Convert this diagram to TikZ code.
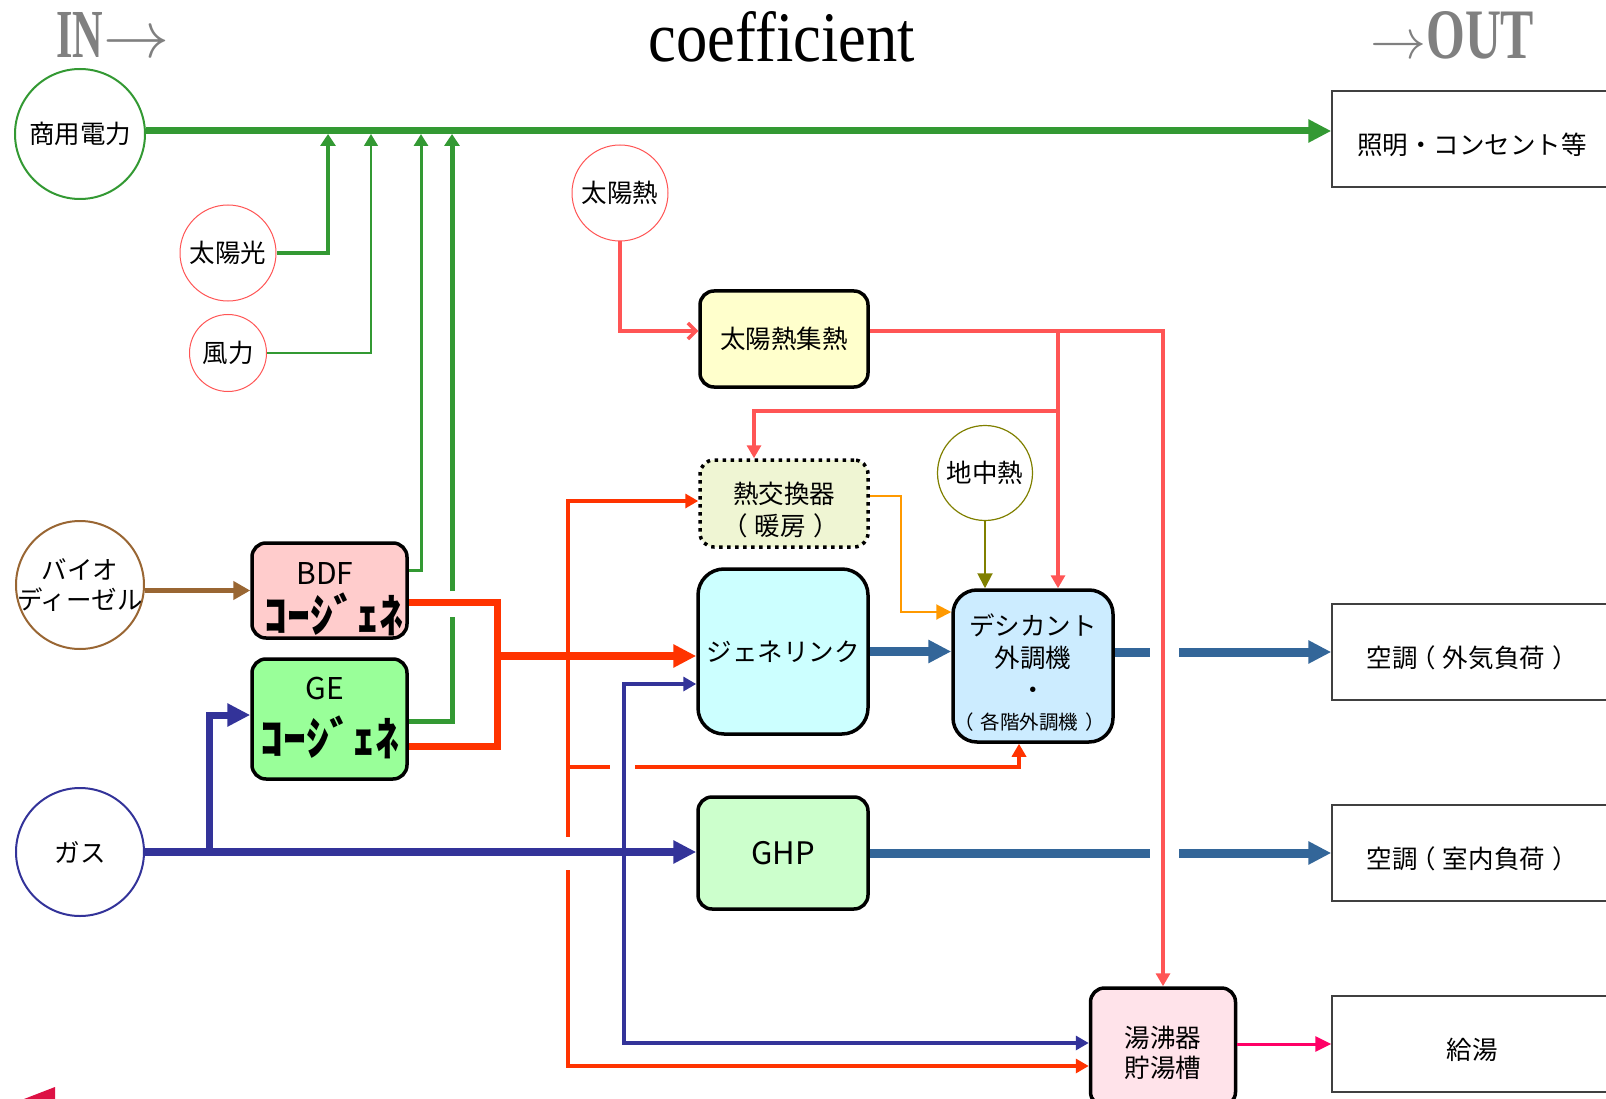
\documentclass[tikz,border=0pt]{standalone}
\usepackage{fontspec}
\usepackage{graphicx}
\usetikzlibrary{arrows.meta}

\setmainfont{Noto Sans CJK JP}
\newfontfamily\headfont{Liberation Serif}

\definecolor{elec}{HTML}{339933}
\definecolor{solar}{HTML}{FF5555}
\definecolor{exhaust}{HTML}{FF3300}
\definecolor{gasblue}{HTML}{333399}
\definecolor{coolblue}{HTML}{336699}
\definecolor{bdfbrown}{HTML}{996633}
\definecolor{geoolive}{HTML}{808000}
\definecolor{hxorange}{HTML}{FF9900}
\definecolor{hotpink}{HTML}{FF0066}
\definecolor{headgray}{HTML}{808080}
\definecolor{marker}{HTML}{DD1144}
\definecolor{bdfpink}{HTML}{FFCCCC}
\definecolor{gegreen}{HTML}{99FF99}
\definecolor{collyellow}{HTML}{FFFFCC}
\definecolor{hxfill}{HTML}{EFF5D3}
\definecolor{glcyan}{HTML}{CCFFFF}
\definecolor{dcblue}{HTML}{CCECFF}
\definecolor{ghpgreen}{HTML}{CCFFCC}
\definecolor{tankpink}{HTML}{FFE3EA}

\newcommand\cogenfont{\bfseries\fontsize{46}{46}\selectfont}
\newcommand\openp{\hspace{-7pt}（\hspace{7pt}}
\newcommand\closep{\hspace{7pt}）\hspace{-7pt}}

\begin{document}
\begin{tikzpicture}[x=1pt,y=-1pt,
  font=\fontsize{25.5}{32}\selectfont,
  srcnode/.style={circle,draw=#1,fill=white,inner sep=0pt,align=center},
  unitbox/.style={draw=black,line width=3.5pt,rounded corners=14pt,fill=#1,inner sep=0pt,align=center},
  demandbox/.style={draw=black!75,line width=1.5pt,minimum width=280pt,minimum height=96pt,
    inner sep=0pt,text height=31pt,text depth=0pt},
  bigtip/.style={-{Triangle[length=23pt,width=22pt]}},
  smalltip/.style={-{Triangle[length=13pt,width=14pt]}}]
  \useasboundingbox (0,0) rectangle (1606,1099);

  % headings
  \node[anchor=base west,inner sep=0pt,text=headgray,font=\headfont\bfseries] (inhead) at (56,58)
    {\resizebox{47pt}{45pt}{IN}\resizebox{66pt}{!}{$\rightarrow$}};
  \node[anchor=base,inner sep=0pt,font=\headfont] (title) at (782,62)
    {\resizebox{266pt}{50pt}{coefficient}};
  \node[anchor=base west,inner sep=0pt,text=headgray,font=\headfont\bfseries] (outhead) at (1370,59)
    {\resizebox{56pt}{!}{$\rightarrow$}\resizebox{108pt}{47pt}{OUT}};

  % energy sources
  \node[srcnode=elec,line width=2pt,minimum size=130pt] (grid) at (80,134) {商用電力};
  \node[srcnode=solar,line width=1pt,minimum size=96pt] (pv) at (228,253) {太陽光};
  \node[srcnode=solar,line width=1pt,minimum size=77pt] (wind) at (228,353) {風力};
  \node[srcnode=bdfbrown,line width=2pt,minimum size=128pt,inner sep=-16pt,
    font=\fontsize{25.5}{30}\selectfont] (bio) at (80,585) {バイオ\\ディーゼル};
  \node[srcnode=gasblue,line width=2pt,minimum size=128pt] (gas) at (80,852) {ガス};
  \node[srcnode=solar,line width=1pt,minimum size=96pt] (sunheat) at (620,193) {太陽熱};
  \node[srcnode=geoolive,line width=1.2pt,minimum size=95pt] (geo) at (985,473) {地中熱};

  % plant
  \node[unitbox=bdfpink,minimum width=155pt,minimum height=95pt] (bdf) at (329.5,590.5) {};
  \node[font=\fontsize{30}{30}\selectfont] (bdftype) at (325,574) {BDF};
  \node[font=\cogenfont] (bdfcg) at (333,614) {ｺｰｼﾞｪﾈ};
  \node[unitbox=gegreen,minimum width=155pt,minimum height=120pt] (ge) at (329.5,719) {};
  \node[font=\fontsize{30}{30}\selectfont] (getype) at (325,688) {GE};
  \node[font=\cogenfont] (gecg) at (329,737) {ｺｰｼﾞｪﾈ};
  \node[unitbox=collyellow,minimum width=168pt,minimum height=96pt] (coll) at (784,339) {太陽熱集熱};
  \node[unitbox=hxfill,dash pattern=on 3.5pt off 4.5pt,minimum width=168pt,minimum height=87pt]
    (hx) at (784,503.5) {};
  \node[align=center] (hxtext) at (784,510) {熱交換器\\\openp 暖房\closep};
  \node[unitbox=glcyan,rounded corners=26pt,minimum width=170pt,minimum height=165pt]
    (genelink) at (783,651.5) {ジェネリンク};
  \node[unitbox=dcblue,rounded corners=24pt,minimum width=160pt,minimum height=152pt]
    (desic) at (1033,666) {};
  \node[align=center] (desictext) at (1033,673)
    {デシカント\\外調機\\・\\[-2pt]{\fontsize{19.5}{22}\selectfont \openp 各階外調機\closep}};
  \node[unitbox=ghpgreen,minimum width=170pt,minimum height=112pt,font=\fontsize{31}{31}\selectfont]
    (ghp) at (783,853) {GHP};
  \node[unitbox=tankpink,minimum width=145pt,minimum height=118pt] (tank) at (1163,1047) {};
  \node[align=center,font=\fontsize{25.5}{30}\selectfont] (tanktext) at (1163,1053) {湯沸器\\貯湯槽};

  % demands
  \node[demandbox] (light) at (1472,139) {照明・コンセント等};
  \node[demandbox] (oa) at (1472,652) {空調\openp 外気負荷\closep};
  \node[demandbox] (ia) at (1472,853) {空調\openp 室内負荷\closep};
  \node[demandbox] (hw) at (1472,1044) {給湯};

  % electricity
  \coordinate (bus1) at (328,134);
  \coordinate (bus2) at (371,134);
  \coordinate (bus3) at (421,134);
  \coordinate (bus4) at (452,134);
  \coordinate (hopg1) at (452,617);
  \coordinate (hopg2) at (452,591);
  \draw[elec,line width=7pt,bigtip] ([yshift=3pt]grid.east) -- ([yshift=3pt]grid.east -| light.west);
  \draw[elec,line width=4pt,-{Triangle[length=12pt,width=15pt]}] (pv.east) -| (bus1);
  \draw[elec,line width=1.5pt,-{Triangle[length=12pt,width=14pt]}] (wind.east) -| (bus2);
  \draw[elec,line width=3pt,-{Triangle[length=12pt,width=14pt]}] ([yshift=20pt]bdf.east) -| (bus3);
  \draw[elec,line width=5pt] ([yshift=-2pt]ge.east) -| (hopg1);
  \draw[elec,line width=5pt,-{Triangle[length=12pt,width=15pt]}] (hopg2) -- (bus4);

  % exhaust heat
  \coordinate (exh) at (497,656);
  \coordinate (exh2) at (568,656);
  \coordinate (hopr1) at (610,767);
  \coordinate (hopr2) at (635,767);
  \coordinate (hopr3) at (568,837);
  \coordinate (hopr4) at (568,870);
  \draw[exhaust,line width=7pt] ([yshift=-11.5pt]bdf.east) -| (exh) |- ([yshift=-27pt]ge.east);
  \draw[exhaust,line width=8pt,bigtip] (exh) -- (exh -| genelink.west);
  \draw[exhaust,line width=4.5pt,smalltip] (exh2) |- ([yshift=2.5pt]hx.west);
  \draw[exhaust,line width=4.5pt] (exh2) |- (hopr1);
  \draw[exhaust,line width=4.5pt,smalltip] (hopr2) -| ([xshift=-14pt]desic.south);
  \draw[exhaust,line width=4.5pt] (exh2) -- (hopr3);
  \draw[exhaust,line width=4.5pt,smalltip] (hopr4) |- ([yshift=-19pt]tank.west);

  % gas
  \coordinate (gas1) at (209,852);
  \coordinate (gas2) at (624,852);
  \draw[gasblue,line width=8pt,bigtip] (gas.east) -- (gas.east -| ghp.west);
  \draw[gasblue,line width=7pt,bigtip] (gas1) |- ([yshift=4pt]ge.west);
  \draw[gasblue,line width=4pt,smalltip] (gas2) |- ([yshift=-32.5pt]genelink.west);
  \draw[gasblue,line width=4pt,smalltip] (gas2) |- ([yshift=4pt]tank.west);

  % cooling / heating output
  \coordinate (hopc1) at (1150,652);
  \coordinate (hopc2) at (1179,652);
  \coordinate (hopc3) at (1150,853);
  \coordinate (hopc4) at (1179,853);
  \draw[coolblue,line width=9pt,bigtip] (genelink.east) -- (genelink.east -| desic.west);
  \draw[coolblue,line width=9pt] (desic.east |- oa.west) -- (hopc1);
  \draw[coolblue,line width=9pt,bigtip] (hopc2) -- (oa.west);
  \draw[coolblue,line width=9pt] (ghp.east) -- (hopc3);
  \draw[coolblue,line width=9pt,bigtip] (hopc4) -- (ia.west);

  % solar heat
  \coordinate (sol1) at (1058,331);
  \coordinate (sol2) at (1058,411);
  \draw[solar,line width=3.5pt,-{Straight Barb[length=8pt,width=16pt]}] (sunheat.south) |- ([yshift=8pt]coll.west);
  \draw[solar,line width=3.5pt,smalltip] ([yshift=8pt]coll.east) -| (tank.north);
  \draw[solar,line width=3.5pt,smalltip] (sol1) -- (sol1 |- desic.north);
  \draw[solar,line width=3.5pt,smalltip] (sol2) -| ([xshift=-30pt]hx.north);

  \draw[hxorange,line width=2pt,-{Triangle[length=15pt,width=15pt]}]
    ([yshift=7.5pt]hx.east) -| ([xshift=-50pt,yshift=54pt]desic.west) -- ([yshift=54pt]desic.west);
  \draw[geoolive,line width=2pt,-{Triangle[length=15pt,width=15pt]}] (geo.south) -- (geo.south |- desic.north);
  \draw[bdfbrown,line width=4.5pt,-{Triangle[length=17pt,width=18pt]}] (bdf.west -| bio.east) -- (bdf.west);
  \draw[hotpink,line width=3pt,-{Triangle[length=16pt,width=15pt]}] (tank.east |- hw.west) -- (hw.west);

  \fill[marker] (24,1099) -- (55,1087) -- (55,1099) -- cycle;
\end{tikzpicture}
\end{document}
